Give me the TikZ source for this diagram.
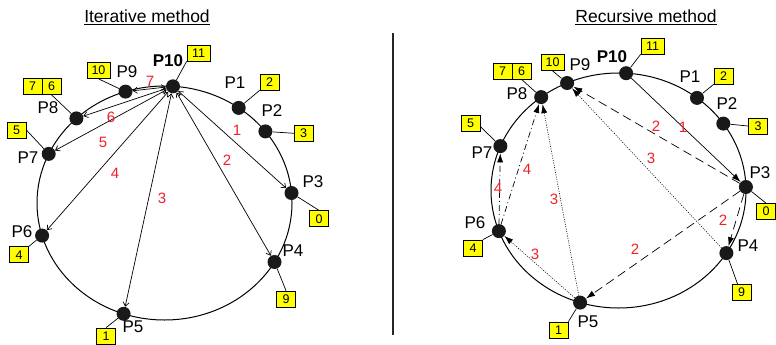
\documentclass[tikz,border=0pt]{standalone}
\usepackage{fontspec}
\setmainfont{Liberation Sans}
\usetikzlibrary{arrows.meta,calc}
\definecolor{boxyellow}{RGB}{255,255,0}
\definecolor{lblred}{RGB}{240,30,40}
\definecolor{dotblack}{RGB}{25,25,25}
\begin{document}
\begin{tikzpicture}[x=1pt,y=-1pt,
  pdot/.style={circle,fill=dotblack,minimum size=14pt,inner sep=0pt},
  plabel/.style={font=\fontsize{17}{20}\selectfont,inner sep=0pt},
  ttl/.style={font=\fontsize{17.5}{20}\selectfont,inner sep=0pt},
  nbox/.style={draw=black,line width=0.7pt,fill=boxyellow,minimum width=19pt,minimum height=16pt,inner sep=0pt,font=\fontsize{12.5}{14}\selectfont},
  wbox/.style={nbox,minimum width=23pt},
  redlbl/.style={text=lblred,font=\fontsize{15}{17}\selectfont,inner sep=0pt},
  leader/.style={line width=0.7pt},
  ringline/.style={line width=1pt},
  itarrow/.style={line width=0.7pt,{Straight Barb[length=4pt,width=6pt]}-{Straight Barb[length=4pt,width=6pt]}},
  rsolid/.style={line width=0.7pt,-{Latex[length=9pt,width=6pt]}},
  rdash/.style={rsolid,dash pattern=on 9pt off 5pt},
  rdot/.style={rsolid,line width=0.6pt,dash pattern=on 1pt off 1.4pt},
  rdashdot/.style={rsolid,dash pattern=on 6pt off 3pt on 1pt off 3pt}
]
\useasboundingbox (0,0) rectangle (776,345);

% titles and divider
\node[ttl] (t1) at (147,17) {\underline{Iterative method}};
\node[ttl] (t2) at (646,17) {\underline{Recursive method}};
\coordinate (d1) at (393,33);
\coordinate (d2) at (393,335);
\draw[line width=1.1pt,black!85] (d1) -- (d2);

% ================= LEFT: iterative =================
\draw[ringline] (164.5,203) ellipse [x radius=127.5pt, y radius=117pt];

\node[pdot] (lP10) at (173,86.3) {};
\node[pdot] (lP9) at (125.5,91.6) {};
\node[pdot] (lP8) at (76.4,118.4) {};
\node[pdot] (lP7) at (48.7,153.9) {};
\node[pdot] (lP6) at (42.1,235.6) {};
\node[pdot] (lP5) at (123.6,313.8) {};
\node[pdot] (lP4) at (274.5,262) {};
\node[pdot] (lP3) at (291.5,193) {};
\node[pdot] (lP2) at (265.4,131.4) {};
\node[pdot] (lP1) at (238.7,107.9) {};

\node[plabel,font=\fontsize{17}{20}\selectfont\bfseries] (lT10) at (168,61) {P10};
\node[plabel] (lT9) at (127,72) {P9};
\node[plabel] (lT8) at (48,108) {P8};
\node[plabel] (lT7) at (28,158) {P7};
\node[plabel] (lT6) at (22,232) {P6};
\node[plabel] (lT5) at (133,327) {P5};
\node[plabel] (lT4) at (293,251) {P4};
\node[plabel] (lT3) at (313,182) {P3};
\node[plabel] (lT2) at (272,111) {P2};
\node[plabel] (lT1) at (235,83) {P1};

\node[wbox] (lb11) at (198.5,53) {11};
\node[wbox] (lb10) at (98.5,70.5) {10};
\node[nbox] (lb7) at (32.5,86.5) {7};
\node[nbox] (lb6) at (51.5,86.5) {6};
\node[nbox] (lb5) at (16.5,130) {5};
\node[nbox] (lb4) at (19,254.7) {4};
\node[nbox] (lb1) at (106,336) {1};
\node[nbox] (lb9) at (286,299) {9};
\node[nbox] (lb0) at (319,218.7) {0};
\node[nbox] (lb3) at (303.7,133.3) {3};
\node[nbox] (lb2) at (269.5,82) {2};

\draw[leader] (lP10) -- (lb11.south west);
\draw[leader] (lP9) -- (lb10.south);
\draw[leader] (lP8) -- (lb6.south);
\draw[leader] (lP7) -- (lb5.east);
\draw[leader] (lP6) -- (lb4.north east);
\draw[leader] (lP5) -- (lb1.north);
\draw[leader] (lP4) -- (lb9.north);
\draw[leader] (lP3) -- (lb0.north);
\draw[leader] (lP2) -- (lb3.west);
\draw[leader] (lP1) -- (lb2.south west);

\draw[itarrow] (lP10) -- (lP3);
\draw[itarrow] (lP10) -- (lP4);
\draw[itarrow] (lP10) -- (lP5);
\draw[itarrow] (lP10) -- (lP6);
\draw[itarrow] (lP10) -- (lP7);
\draw[itarrow] (lP10) -- (lP8);
\draw[itarrow] (lP10) -- (lP9);

\node[redlbl] (ln7) at (150,81) {7};
\node[redlbl] (ln6) at (111,117) {6};
\node[redlbl] (ln5) at (103,142) {5};
\node[redlbl] (ln4) at (115,173) {4};
\node[redlbl] (ln3) at (162,198) {3};
\node[redlbl] (ln2) at (227,160) {2};
\node[redlbl] (ln1) at (237,130) {1};

% ================= RIGHT: recursive =================
\draw[ringline] (618.5,190.5) ellipse [x radius=127.5pt, y radius=117.5pt];

\node[pdot] (rP10) at (626.1,73.2) {};
\node[pdot] (rP9) at (567.1,83) {};
\node[pdot] (rP8) at (541.2,97.1) {};
\node[pdot] (rP7) at (500.4,146.1) {};
\node[pdot] (rP6) at (498.9,231.1) {};
\node[pdot] (rP5) at (580.1,302.6) {};
\node[pdot] (rP4) at (726.4,253.1) {};
\node[pdot] (rP3) at (745.9,187) {};
\node[pdot] (rP2) at (723.3,123.6) {};
\node[pdot] (rP1) at (697,97.9) {};

\node[plabel,font=\fontsize{17}{20}\selectfont\bfseries] (rT10) at (612,57) {P10};
\node[plabel] (rT9) at (580,65) {P9};
\node[plabel] (rT8) at (517,94) {P8};
\node[plabel] (rT7) at (482,153) {P7};
\node[plabel] (rT6) at (475,223) {P6};
\node[plabel] (rT5) at (588,322) {P5};
\node[plabel] (rT4) at (748,246) {P4};
\node[plabel] (rT3) at (760,173) {P3};
\node[plabel] (rT2) at (727,104) {P2};
\node[plabel] (rT1) at (690,77) {P1};

\node[wbox] (rb11) at (652.5,46) {11};
\node[wbox] (rb10) at (552.5,62.5) {10};
\node[nbox] (rb7) at (502.5,71) {7};
\node[nbox] (rb6) at (521.5,71) {6};
\node[nbox] (rb5) at (470.5,123) {5};
\node[nbox] (rb4) at (473,248) {4};
\node[nbox] (rb1) at (558.5,330) {1};
\node[nbox] (rb9) at (741.5,292.5) {9};
\node[nbox] (rb0) at (766,211.5) {0};
\node[nbox] (rb3) at (758,126) {3};
\node[nbox] (rb2) at (723.5,76) {2};

\draw[leader] (rP10) -- (rb11.south west);
\draw[leader] (rP9) -- (rb10.south);
\draw[leader] (rP8) -- (rb6.south);
\draw[leader] (rP7) -- (rb5.-20);
\draw[leader] (rP6) -- (rb4.north east);
\draw[leader] (rP5) -- (rb1.north east);
\draw[leader] (rP4) -- (rb9.115);
\draw[leader] (rP3) -- (rb0.north);
\draw[leader] (rP2) -- (rb3.west);
\draw[leader] (rP1) -- (rb2.south west);

\draw[rsolid] (rP10) -- (rP3);
\draw[rdash] (rP3) -- (rP9);
\draw[rdash] (rP3) -- (rP4);
\draw[rdash] (rP3) -- (rP5);
\draw[rdot] (rP4) -- (rP9);
\draw[rdot] (rP5) -- (rP6);
\draw[rdot] (rP5) -- (rP8);
\draw[rdashdot] (rP6) -- (rP7);
\draw[rdashdot] (rP6) -- (rP8);

\node[redlbl] (rn1) at (683,127) {1};
\node[redlbl] (rn2a) at (656,126) {2};
\node[redlbl] (rn3a) at (651,158) {3};
\node[redlbl] (rn2b) at (723,220) {2};
\node[redlbl] (rn2c) at (635,249) {2};
\node[redlbl] (rn3b) at (535,254) {3};
\node[redlbl] (rn3c) at (554,199) {3};
\node[redlbl] (rn4a) at (498,188) {4};
\node[redlbl] (rn4b) at (527,169) {4};
\end{tikzpicture}
\end{document}
